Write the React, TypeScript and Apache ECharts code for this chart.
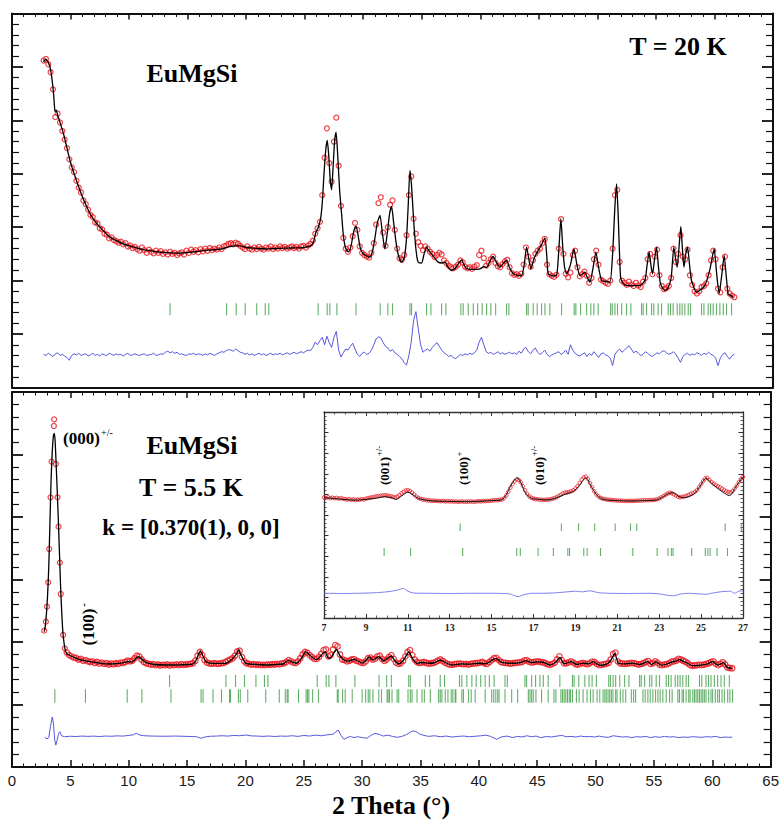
import React, { useEffect, useRef } from 'react';
import * as echarts from 'echarts';

// ---------------- DATA ----------------
const obsStep = 0.2;

// Top panel (T = 20 K)
const topObsStart = 2.7;
const topObs = [
  5120, 5150, 5050, 4900, 4580, 4060, 4130, 3960, 3800, 3640,
  3480, 3270, 3120, 3030, 2870, 2740, 2650, 2500, 2430, 2330,
  2230, 2190, 2090, 2070, 1980, 1960, 1880, 1860, 1790, 1810,
  1760, 1740, 1710, 1730, 1680, 1700, 1640, 1660, 1610, 1630,
  1590, 1560, 1620, 1570, 1520, 1580, 1540, 1510, 1560, 1520,
  1550, 1500, 1530, 1490, 1540, 1500, 1520, 1480, 1510, 1530,
  1490, 1560, 1520, 1580, 1540, 1570, 1530, 1590, 1550, 1600,
  1560, 1610, 1570, 1600, 1580, 1620, 1590, 1640, 1660, 1690,
  1700, 1680, 1710, 1690, 1650, 1620, 1590, 1640, 1600, 1580,
  1620, 1590, 1630, 1600, 1580, 1620, 1600, 1640, 1590, 1620,
  1600, 1640, 1610, 1630, 1600, 1620, 1640, 1610, 1630, 1600,
  1640, 1650, 1620, 1660, 1690, 1750, 1880, 1980, 2100, 2600,
  3300, 3850, 3200, 2850, 3600, 4050, 3150, 2400, 1800, 1600,
  1540, 1620, 1830, 2080, 1950, 1640, 1520, 1480, 1450, 1430,
  1520, 1700, 2050, 2450, 2560, 1900, 1650, 2000, 2420, 2500,
  1950, 1600, 1420, 1390, 1480, 1850, 2600, 2950, 2160, 1880,
  1720, 1650, 1570, 1640, 1600, 1540, 1500, 1440, 1480, 1520,
  1490, 1380, 1330, 1280, 1250, 1230, 1260, 1300, 1380, 1340,
  1260, 1230, 1250, 1220, 1260, 1290, 1480, 1560, 1420, 1280,
  1330, 1400, 1450, 1330, 1270, 1250, 1310, 1360, 1390, 1250,
  1140, 1110, 1120, 1090, 1130, 1300, 1620, 1450, 1260, 1380,
  1500, 1560, 1600, 1700, 1780, 1300, 1120, 1090, 1070, 1110,
  1600, 2150, 1500, 1130, 1060, 1150, 1480, 1560, 1250, 1080,
  1120, 1170, 1090, 960, 1050, 1400, 1560, 1300, 1020, 990,
  960, 940, 1000, 1600, 2600, 2700, 1350, 1000, 960, 920,
  980, 930, 900, 960, 910, 880, 980, 1050, 1400, 1500,
  1120, 1450, 1580, 1100, 900, 840, 860, 900, 1050, 1600,
  1350, 1500, 1850, 1450, 1400, 1580, 1100, 920, 800, 760,
  800, 880, 900, 950, 1100, 1380, 1560, 1400, 850, 780,
  1250, 1450, 850, 760, 720, 690,
];
const topDiff = [
  -380, -400, -360, -390, -420, -370, -350, -400, -380, -410,
  -440, -490, -400, -370, -390, -360, -400, -380, -370, -410,
  -390, -360, -400, -380, -410, -370, -390, -400, -360, -380,
  -400, -370, -390, -380, -410, -380, -360, -400, -390, -370,
  -390, -400, -380, -370, -400, -390, -380, -360, -400, -390,
  -370, -380, -340, -320, -350, -330, -360, -340, -380, -370,
  -390, -400, -370, -380, -360, -390, -370, -380, -400, -370,
  -390, -360, -380, -400, -370, -350, -330, -340, -310, -290,
  -300, -320, -280, -310, -340, -350, -380, -360, -390, -370,
  -400, -380, -360, -390, -370, -400, -380, -360, -390, -370,
  -380, -360, -390, -370, -350, -380, -360, -340, -370, -350,
  -330, -350, -320, -300, -310, -250, -150, -200, -120, -60,
  -200, -40, -160, -250, -60, 50, -300, -430, -350, -280,
  -300, -230, -170, -280, -380, -420, -360, -340, -380, -360,
  -300, -200, -90, -50, -70, -160, -230, -260, -320, -290,
  -350, -380, -420, -460, -540, -580, -400, -150, 250, 420,
  100, -200, -340, -300, -280, -320, -250, -200, -160, -230,
  -300, -350, -380, -420, -400, -440, -460, -420, -380, -400,
  -370, -390, -360, -380, -350, -300, -150, -60, -200, -330,
  -360, -340, -380, -360, -330, -370, -350, -380, -360, -340,
  -370, -350, -380, -320, -360, -280, -250, -330, -370, -300,
  -260, -340, -380, -350, -300, -380, -420, -390, -370, -350,
  -330, -380, -350, -300, -380, -200, -300, -360, -390, -410,
  -380, -350, -420, -360, -400, -330, -380, -440, -370, -350,
  -390, -410, -450, -590, -380, -320, -280, -340, -300, -260,
  -220, -280, -350, -320, -360, -400, -380, -330, -360, -400,
  -420, -380, -350, -370, -330, -310, -350, -380, -360, -330,
  -380, -450, -530, -420, -380, -360, -400, -370, -390, -350,
  -370, -400, -360, -380, -340, -380, -400, -450, -590, -450,
  -380, -350, -420, -470, -400, -380,
];
const topCalc = [
  [2.7, 5090], [2.85, 5140], [2.95, 5134], [3.1, 5080], [3.25, 4996], [3.4, 4800], [3.55, 4500], [3.65, 4200],
  [3.7, 4170], [3.78, 4190], [3.9, 4100], [4.15, 3930], [4.4, 3749], [4.7, 3480], [4.95, 3249], [5.4, 2940],
  [5.81, 2688], [6.2, 2470], [6.66, 2257], [7.1, 2110], [7.51, 2001], [8.0, 1890], [8.37, 1813], [9.0, 1740],
  [9.5, 1690], [10.2, 1640], [10.93, 1596], [11.8, 1560], [12.64, 1533], [13.5, 1520], [14.35, 1514], [15.2, 1530],
  [16.05, 1552], [16.8, 1570], [17.48, 1583], [18.1, 1605], [18.6, 1635], [19.0, 1650], [19.5, 1650], [19.9, 1625],
  [20.3, 1615], [21.0, 1602], [21.75, 1596], [22.5, 1602], [23.17, 1608], [23.9, 1612], [24.6, 1615], [25.1, 1628],
  [25.5, 1650], [25.75, 1720], [25.95, 1900], [26.15, 1990], [26.35, 2150], [26.5, 2450], [26.65, 3000], [26.8, 3450],
  [26.93, 3624], [27.05, 3350], [27.18, 2900], [27.3, 2701], [27.42, 3100], [27.55, 3600], [27.68, 3779], [27.82, 3350],
  [27.98, 2700], [28.15, 2251], [28.3, 1850], [28.45, 1640], [28.6, 1560], [28.75, 1540], [28.95, 1640], [29.15, 1880],
  [29.3, 2000], [29.4, 2014], [29.55, 1860], [29.75, 1610], [30.0, 1503], [30.3, 1460], [30.57, 1439], [30.8, 1560],
  [31.0, 1800], [31.2, 2080], [31.43, 2220], [31.65, 1860], [31.85, 1596], [32.05, 1880], [32.25, 2250], [32.42, 2388],
  [32.6, 2080], [32.8, 1720], [33.0, 1480], [33.28, 1346], [33.5, 1420], [33.7, 1800], [33.85, 2450], [33.99, 3062],
  [34.12, 2800], [34.27, 2251], [34.45, 1700], [34.6, 1420], [34.7, 1346], [34.98, 1327], [35.2, 1500], [35.41, 1626],
  [35.6, 1560], [35.84, 1502], [36.1, 1420], [36.4, 1346], [36.7, 1330], [36.98, 1346], [37.25, 1250], [37.55, 1190],
  [37.9, 1240], [38.2, 1340], [38.4, 1390], [38.6, 1300], [38.83, 1222], [39.4, 1210], [39.97, 1222], [40.3, 1260],
  [40.55, 1250], [40.85, 1380], [41.1, 1452], [41.4, 1330], [41.67, 1252], [42.0, 1330], [42.24, 1377], [42.5, 1240],
  [42.81, 1128], [43.2, 1100], [43.53, 1096], [43.75, 1300], [43.95, 1626], [44.15, 1400], [44.32, 1222], [44.6, 1420],
  [44.86, 1533], [45.2, 1660], [45.52, 1802], [45.68, 1450], [45.8, 1128], [46.2, 1090], [46.51, 1096], [46.7, 1550],
  [46.88, 2158], [47.05, 1600], [47.2, 1250], [47.37, 1128], [47.7, 1300], [48.0, 1596], [48.25, 1300], [48.5, 1096],
  [48.7, 1120], [48.93, 1159], [49.15, 1050], [49.36, 971], [49.6, 1200], [49.87, 1533], [50.1, 1250], [50.36, 1003],
  [50.7, 985], [51.07, 971], [51.3, 1500], [51.5, 2400], [51.64, 2813], [51.78, 2200], [51.98, 1065], [52.2, 950],
  [52.49, 909], [53.0, 905], [53.63, 909], [54.06, 1003], [54.25, 1300], [54.42, 1533], [54.58, 1280], [54.71, 1128],
  [54.88, 1400], [55.05, 1626], [55.22, 1250], [55.39, 940], [55.76, 816], [56.0, 850], [56.3, 1050], [56.53, 1627],
  [56.7, 1380], [56.82, 1252], [57.0, 1700], [57.13, 2014], [57.26, 1600], [57.39, 1252], [57.55, 1500], [57.7, 1626],
  [57.87, 1300], [58.04, 1003], [58.47, 784], [58.8, 830], [59.18, 909], [59.6, 1200], [59.97, 1596], [60.2, 1100],
  [60.4, 753], [60.62, 1100], [60.83, 1471], [61.0, 1100], [61.17, 753], [61.4, 720], [61.6, 690],
];

// Bragg reflections
const nuclearTicks = [
  13.5, 18.33, 19.15, 19.92, 20.9, 21.63, 21.93, 26.15, 26.92, 27.15, 27.75, 29.38, 31.45, 32.1, 32.5,
  33.99, 34.13, 35.41, 35.78, 36.69, 37.06, 38.34, 38.54, 38.97, 39.4, 39.77, 40.16, 40.54, 40.9, 41.31,
  42.24, 42.44, 43.95, 44.09, 44.52, 44.86, 45.23, 45.52, 45.94, 46.94, 48.02, 48.16, 48.56, 49.08, 49.44,
  49.7, 50.07, 51.13, 51.27, 51.5, 51.72, 52.07, 52.49, 52.86, 53.77, 53.91, 54.2, 54.63, 54.82, 55.19,
  55.48, 56.05, 56.25, 56.47, 56.82, 57.04, 57.24, 57.47, 57.76, 57.96, 58.9, 59.1, 59.46, 59.67, 59.89,
  60.18, 60.46, 60.75, 61.03, 61.46,
];
const magneticTicks = [
  3.67, 6.29, 9.87, 11.13, 13.62, 16.2, 16.37, 17.22, 17.95, 18.64, 18.72, 19.4, 19.56, 20.2, 21.74, 22.9,
  23.42, 23.58, 23.66, 24.55, 25.2, 25.32, 25.43, 25.76, 26.26, 27.87, 27.95, 28.32, 28.55, 29.15, 30.0,
  30.3, 30.52, 30.66, 30.92, 31.43, 31.66, 32.14, 32.22, 32.34, 32.56, 32.99, 33.13, 33.93, 34.13, 34.27,
  34.7, 35.13, 35.33, 35.84, 36.55, 36.69, 36.83, 37.12, 37.35, 37.63, 37.77, 37.97, 38.03, 38.54, 38.68,
  39.11, 39.34, 39.68, 40.54, 41.1, 41.27, 41.45, 41.62, 41.73, 42.24, 42.81, 43.32, 44.24, 44.38, 44.52,
  44.66, 44.89, 45.37, 45.94, 46.43, 46.6, 47.03, 47.17, 47.31, 47.45, 47.59, 47.74, 47.85, 48.02, 48.36,
  48.59, 48.93, 49.27, 49.56, 49.79, 50.13, 50.36, 50.64, 50.79, 50.92, 51.07, 51.21, 51.35, 51.49, 51.72,
  51.84, 52.12, 52.35, 52.58, 53.06, 53.26, 53.43, 54.06, 54.25, 54.48, 54.68, 54.91, 55.14, 55.34, 55.53,
  55.76, 56.05, 56.34, 56.56, 57.05, 57.19, 57.41, 57.53, 57.76, 57.98, 58.1, 58.33, 58.47, 58.61, 58.75,
  58.9, 59.04, 59.18, 59.32, 59.46, 59.69, 59.89, 60.03, 60.26, 60.46, 60.61, 60.83, 61.03, 61.32, 61.51, 61.74,
];

// Bottom panel (T = 5.5 K)
const botObsPeak = [
  [2.76, 2181], [2.9, 2325], [2.99, 2565], [3.1, 2955], [3.19, 3488], [3.3, 4315], [3.39, 4885], [3.59, 5456],
  [3.61, 5563], [3.76, 4848], [3.9, 4315], [3.99, 3845], [4.1, 3269], [4.18, 2768], [4.38, 2112], [4.53, 1899],
];
const botObsStart = 4.7;
const botObs = [
  1830, 1790, 1770, 1750, 1745, 1720, 1730, 1700, 1710, 1690,
  1680, 1690, 1665, 1680, 1655, 1670, 1650, 1660, 1640, 1655,
  1645, 1660, 1650, 1670, 1665, 1680, 1700, 1690, 1700, 1740,
  1780, 1770, 1720, 1680, 1660, 1650, 1640, 1645, 1630, 1640,
  1625, 1635, 1630, 1640, 1625, 1635, 1630, 1640, 1630, 1645,
  1635, 1640, 1645, 1650, 1660, 1700, 1780, 1840, 1790, 1710,
  1670, 1660, 1650, 1660, 1655, 1650, 1660, 1665, 1680, 1700,
  1720, 1740, 1780, 1850, 1860, 1760, 1690, 1660, 1650, 1640,
  1645, 1635, 1640, 1630, 1635, 1630, 1640, 1635, 1645, 1640,
  1650, 1645, 1655, 1660, 1680, 1710, 1690, 1670, 1665, 1690,
  1740, 1800, 1840, 1830, 1790, 1760, 1730, 1730, 1760, 1810,
  1870, 1880, 1770, 1790, 1880, 1950, 1930, 1800, 1720, 1710,
  1690, 1700, 1720, 1725, 1700, 1690, 1670, 1665, 1690, 1740,
  1750, 1720, 1730, 1770, 1780, 1730, 1700, 1720, 1760, 1790,
  1730, 1670, 1650, 1660, 1700, 1770, 1840, 1870, 1790, 1720,
  1680, 1665, 1670, 1680, 1665, 1655, 1660, 1665, 1680, 1700,
  1720, 1695, 1670, 1650, 1640, 1635, 1645, 1650, 1655, 1650,
  1645, 1650, 1640, 1650, 1655, 1660, 1665, 1670, 1680, 1660,
  1650, 1680, 1710, 1740, 1745, 1710, 1680, 1670, 1665, 1660,
  1655, 1660, 1665, 1670, 1675, 1680, 1705, 1710, 1685, 1670,
  1680, 1685, 1690, 1680, 1675, 1660, 1645, 1635, 1650, 1670,
  1720, 1770, 1710, 1660, 1660, 1675, 1690, 1670, 1645, 1640,
  1655, 1665, 1655, 1645, 1660, 1685, 1680, 1650, 1630, 1635,
  1645, 1650, 1665, 1720, 1810, 1830, 1690, 1660, 1655, 1650,
  1655, 1660, 1665, 1660, 1650, 1640, 1650, 1660, 1680, 1695,
  1650, 1660, 1690, 1670, 1635, 1630, 1640, 1645, 1660, 1685,
  1690, 1700, 1730, 1720, 1700, 1685, 1660, 1630, 1620, 1625,
  1630, 1635, 1630, 1640, 1650, 1660, 1680, 1690, 1650, 1630,
  1650, 1675, 1640, 1590, 1585, 1580,
];
const botCalc = [
  [2.76, 2165], [2.85, 2250], [2.95, 2450], [3.05, 2750], [3.15, 3200], [3.25, 3900], [3.35, 4600], [3.45, 5050],
  [3.55, 5300], [3.63, 5339], [3.7, 5200], [3.78, 4850], [3.88, 4400], [3.98, 3900], [4.08, 3350], [4.18, 2800],
  [4.28, 2400], [4.38, 2112], [4.53, 1899], [4.67, 1819], [5.0, 1780], [5.52, 1739], [6.1, 1705], [6.66, 1685],
  [7.5, 1662], [8.37, 1648], [9.0, 1655], [9.5, 1665], [9.93, 1685], [10.3, 1682], [10.55, 1725], [10.8, 1765],
  [11.1, 1730], [11.5, 1669], [12.2, 1640], [13.2, 1632], [14.5, 1635], [15.48, 1648], [15.75, 1700], [15.95, 1790],
  [16.14, 1856], [16.35, 1780], [16.62, 1685], [17.0, 1662], [17.5, 1658], [18.33, 1659], [18.7, 1700], [18.95, 1745],
  [19.2, 1800], [19.41, 1872], [19.65, 1780], [20.04, 1659], [21.0, 1640], [21.75, 1632], [22.6, 1640], [23.3, 1652],
  [23.46, 1680], [23.7, 1705], [24.0, 1678], [24.4, 1660], [24.8, 1740], [25.17, 1845], [25.5, 1790], [25.8, 1745],
  [26.02, 1723], [26.3, 1745], [26.6, 1810], [26.85, 1840], [27.05, 1750], [27.25, 1740], [27.5, 1800], [27.8, 1880],
  [28.1, 1780], [28.44, 1712], [28.8, 1695], [29.3, 1723], [29.6, 1700], [30.0, 1662], [30.3, 1700], [30.6, 1760],
  [30.9, 1712], [31.1, 1730], [31.4, 1765], [31.85, 1700], [32.2, 1740], [32.5, 1776], [32.8, 1700], [33.13, 1648],
  [33.5, 1700], [33.8, 1790], [34.0, 1845], [34.3, 1740], [34.7, 1659], [35.2, 1672], [35.7, 1660], [36.2, 1668],
  [36.7, 1712], [37.1, 1672], [37.7, 1632], [38.5, 1650], [39.3, 1645], [40.0, 1660], [40.6, 1652], [41.1, 1705],
  [41.45, 1739], [41.9, 1680], [42.4, 1662], [42.9, 1660], [43.5, 1670], [44.04, 1701], [44.5, 1670], [45.0, 1682],
  [45.5, 1676], [46.09, 1632], [46.6, 1680], [46.94, 1755], [47.3, 1652], [47.93, 1685], [48.4, 1640], [48.9, 1662],
  [49.4, 1650], [49.79, 1685], [50.36, 1625], [51.0, 1650], [51.35, 1720], [51.64, 1819], [51.95, 1662], [52.5, 1650],
  [53.2, 1662], [53.8, 1640], [54.48, 1685], [54.8, 1640], [55.19, 1685], [55.6, 1630], [56.0, 1640], [56.62, 1685],
  [57.0, 1700], [57.19, 1723], [57.5, 1690], [57.8, 1670], [58.3, 1620], [59.0, 1630], [59.6, 1650], [60.04, 1685],
  [60.5, 1630], [60.95, 1670], [61.3, 1590], [61.7, 1580],
];
const botDiff = [
  [2.8, 475], [3.0, 450], [3.15, 470], [3.3, 650], [3.45, 800], [3.55, 700], [3.65, 450], [3.75, 350], [3.85, 420],
  [4.0, 540], [4.1, 565], [4.25, 500], [4.5, 485], [5, 492], [5.5, 488], [6, 495], [6.5, 490], [7, 494], [7.5, 488],
  [8, 495], [8.5, 492], [9, 498], [9.5, 495], [10, 505], [10.4, 515], [10.65, 540], [10.9, 515], [11.3, 500], [12, 495],
  [13, 492], [14, 495], [15, 490], [15.8, 485], [16.2, 459], [16.5, 480], [17, 492], [17.5, 495], [18, 500], [18.5, 495],
  [19, 505], [19.5, 500], [20.04, 512], [20.5, 498], [21, 495], [21.5, 490], [22, 496], [22.5, 488], [23, 495], [23.5, 492],
  [24, 500], [24.5, 490], [25, 505], [25.5, 495], [26, 510], [26.5, 500], [27, 515], [27.5, 525], [27.95, 592], [28.2, 500],
  [28.44, 443], [28.7, 470], [29, 490], [29.3, 470], [29.6, 485], [30, 470], [30.4, 460], [30.7, 500], [31.1, 539],
  [31.5, 520], [31.8, 495], [32.2, 510], [32.6, 490], [33, 475], [33.4, 490], [33.8, 520], [34.3, 576], [34.6, 570],
  [34.9, 530], [35.3, 505], [35.7, 490], [36.2, 500], [36.7, 485], [37.2, 495], [37.7, 480], [38.2, 490], [38.7, 495],
  [39.2, 485], [39.7, 492], [40.2, 500], [40.6, 510], [41.0, 490], [41.53, 443], [41.9, 480], [42.4, 495], [42.9, 470],
  [43.3, 490], [43.7, 480], [44.1, 500], [44.5, 485], [44.9, 495], [45.3, 470], [45.8, 490], [46.2, 480], [46.7, 495],
  [47.1, 505], [47.5, 485], [47.9, 490], [48.3, 480], [48.7, 495], [49.1, 485], [49.5, 490], [49.9, 480], [50.3, 495],
  [50.7, 480], [51.1, 475], [51.5, 500], [51.9, 490], [52.3, 480], [52.7, 485], [53.1, 470], [53.5, 485], [53.9, 480],
  [54.3, 490], [54.7, 470], [55.1, 485], [55.5, 475], [55.9, 490], [56.3, 480], [56.7, 485], [57.1, 470], [57.5, 480],
  [57.9, 475], [58.3, 485], [58.7, 480], [59.1, 475], [59.5, 485], [59.9, 480], [60.3, 490], [60.7, 470], [61.1, 480],
  [61.5, 475], [61.7, 478],
];

// Inset (7 - 27 deg)
const insetStart = 7;
const insetStep = 0.1;
const insetObs = [
  5.85, 5.83, 5.86, 5.82, 5.84, 5.81, 5.83, 5.8, 5.82, 5.79,
  5.77, 5.75, 5.77, 5.74, 5.76, 5.73, 5.75, 5.74, 5.77, 5.76,
  5.79, 5.82, 5.84, 5.86, 5.88, 5.9, 5.92, 5.93, 5.95, 5.96,
  5.95, 5.93, 5.9, 5.88, 5.86, 5.9, 5.97, 6.05, 6.13, 6.19,
  6.21, 6.17, 6.1, 6.0, 5.9, 5.83, 5.79, 5.76, 5.74, 5.72,
  5.71, 5.7, 5.69, 5.69, 5.68, 5.68, 5.67, 5.68, 5.66, 5.67,
  5.66, 5.66, 5.65, 5.66, 5.64, 5.65, 5.66, 5.64, 5.65, 5.65,
  5.66, 5.64, 5.65, 5.66, 5.67, 5.66, 5.68, 5.67, 5.69, 5.68,
  5.7, 5.71, 5.72, 5.72, 5.74, 5.76, 5.82, 5.95, 6.13, 6.32,
  6.5, 6.64, 6.72, 6.7, 6.58, 6.4, 6.2, 6.02, 5.9, 5.84,
  5.8, 5.77, 5.76, 5.74, 5.74, 5.73, 5.74, 5.75, 5.76, 5.79,
  5.82, 5.86, 5.92, 5.98, 6.05, 6.09, 6.1, 6.12, 6.15, 6.2,
  6.28, 6.4, 6.55, 6.72, 6.83, 6.86, 6.75, 6.55, 6.35, 6.15,
  6.0, 5.9, 5.83, 5.79, 5.77, 5.75, 5.74, 5.73, 5.72, 5.71,
  5.7, 5.7, 5.69, 5.69, 5.68, 5.68, 5.69, 5.68, 5.69, 5.69,
  5.7, 5.7, 5.71, 5.71, 5.72, 5.72, 5.73, 5.73, 5.74, 5.76,
  5.8, 5.86, 5.92, 5.98, 6.04, 6.08, 6.06, 6.0, 5.94, 5.88,
  5.86, 5.88, 5.9, 5.93, 5.97, 6.02, 6.06, 6.12, 6.2, 6.35,
  6.5, 6.65, 6.78, 6.8, 6.7, 6.6, 6.52, 6.46, 6.4, 6.35,
  6.28, 6.22, 6.16, 6.12, 6.1, 6.15, 6.28, 6.42, 6.6, 6.75,
  6.85,
];
const insetCalc = [
  [7.0, 5.84], [7.5, 5.8], [8.0, 5.75], [8.5, 5.72], [9.0, 5.76], [9.5, 5.82], [9.9, 5.89], [10.2, 5.84], [10.45, 5.76],
  [10.7, 5.92], [11.0, 6.1], [11.25, 5.98], [11.5, 5.81], [12.0, 5.7], [12.5, 5.67], [13.0, 5.66], [13.5, 5.65],
  [14.0, 5.65], [14.5, 5.67], [15.0, 5.7], [15.46, 5.73], [15.7, 5.98], [15.9, 6.4], [16.23, 6.81], [16.45, 6.45],
  [16.6, 6.1], [16.9, 5.81], [17.3, 5.76], [17.63, 5.73], [18.0, 5.8], [18.42, 5.97], [18.9, 6.15], [19.2, 6.45],
  [19.5, 6.81], [19.75, 6.4], [20.02, 5.97], [20.33, 5.76], [21.0, 5.7], [21.6, 5.68], [22.3, 5.7], [22.88, 5.73],
  [23.2, 5.89], [23.45, 6.05], [23.68, 6.08], [23.9, 5.92], [24.15, 5.84], [24.63, 6.0], [24.95, 6.4], [25.23, 6.78],
  [25.5, 6.55], [25.74, 6.33], [26.05, 6.1], [26.35, 5.94], [26.65, 6.35], [26.94, 6.78], [27.0, 6.84],
];
const insetDiff = [
  [7, 1.2], [8, 1.19], [9, 1.21], [9.5, 1.23], [10, 1.27], [10.5, 1.35], [10.8, 1.44], [11.0, 1.3], [11.3, 1.21],
  [12, 1.2], [13, 1.19], [14, 1.2], [15, 1.2], [15.8, 1.18], [16.0, 1.12], [16.27, 1.03], [16.5, 1.12], [16.9, 1.2],
  [17.5, 1.2], [18, 1.22], [18.5, 1.26], [19.0, 1.3], [19.3, 1.27], [19.7, 1.32], [20.1, 1.23], [20.6, 1.2],
  [21.5, 1.19], [22.5, 1.2], [23.0, 1.17], [23.4, 1.1], [23.7, 1.08], [24.0, 1.16], [24.4, 1.2], [24.8, 1.18],
  [25.2, 1.15], [25.6, 1.22], [26.0, 1.28], [26.4, 1.3], [26.6, 1.2], [26.8, 1.3], [27, 1.32],
];

// ---------------- OPTION ----------------
const r2 = (n: number) => Math.round(n * 100) / 100;
const onGrid = (start: number, step: number, vals: number[]) => vals.map((v, i) => [r2(start + step * i), v]);

const SERIF = "'Liberation Serif', 'Times New Roman', serif";
const SANS = "'Liberation Sans', Arial, sans-serif";
const AX = '#111';
const RED = '#e8141c';
const GREEN = '#3c9c44';
const BLUE = '#5858e0';

function xAxisDef(gridIndex: number, position: string, o: any) {
  return {
    gridIndex, type: 'value', position, min: o.min, max: o.max, interval: o.interval,
    axisLine: { show: true, onZero: false, lineStyle: { color: o.lineColor || AX, width: o.lineWidth || 2 } },
    axisTick: { show: o.tick > 0, inside: true, length: o.tick, lineStyle: { color: o.lineColor || AX, width: o.tickWidth || 1.5 } },
    minorTick: { show: o.minor > 0, splitNumber: o.split, length: o.minor, lineStyle: { color: o.lineColor || AX, width: o.minorWidth || 1 } },
    axisLabel: o.label ? o.label : { show: false },
    splitLine: { show: false },
  };
}
function yAxisDef(gridIndex: number, position: string, o: any) {
  return {
    gridIndex, type: 'value', position, min: o.min, max: o.max, interval: o.interval,
    axisLine: { show: true, onZero: false, lineStyle: { color: o.lineColor || AX, width: o.lineWidth || 2 } },
    axisTick: { show: true, inside: true, length: o.tick, lineStyle: { color: o.lineColor || AX, width: o.tickWidth || 1.8 } },
    minorTick: { show: true, splitNumber: o.split, length: o.minor, lineStyle: { color: o.lineColor || AX, width: o.minorWidth || 1.2 } },
    axisLabel: { show: false },
    splitLine: { show: false },
  };
}

const mainX = { min: 0, max: 65, interval: 5, split: 5 };
const insetX = { min: 0, max: 20, interval: 2, split: 4, lineColor: '#333', lineWidth: 1.3, tickWidth: 1, minorWidth: 0.8 };

const obsSeries = (xi: number, data: any[], size = 4.5, bw = 1.1) => ({
  type: 'scatter', xAxisIndex: xi, yAxisIndex: xi, data, symbol: 'circle', symbolSize: size, z: 2, silent: true,
  itemStyle: { color: 'rgba(0,0,0,0)', borderColor: RED, borderWidth: bw },
});
const lineSeries = (xi: number, data: any[], color: string, width: number, smooth: number, z = 3) => ({
  type: 'line', xAxisIndex: xi, yAxisIndex: xi, data, showSymbol: false, symbol: 'none', smooth, z, silent: true,
  lineStyle: { color, width },
});
const tickSeries = (xi: number, data: any[], h: number) => ({
  type: 'scatter', xAxisIndex: xi, yAxisIndex: xi, data, symbol: 'rect', symbolSize: [1.1, h], z: 2, silent: true,
  itemStyle: { color: GREEN },
});

const inInset = (t: number) => t > 7 && t < 27;

const option: any = {
  animation: false,
  backgroundColor: '#fff',
  grid: [
    { left: 12, top: 13.5, width: 761, height: 374 },
    { left: 12, top: 392, width: 761, height: 375 },
    { left: 324, top: 412, width: 419, height: 206, show: true, backgroundColor: '#fff', borderWidth: 0, z: 5 },
  ],
  xAxis: [
    xAxisDef(0, 'bottom', { ...mainX, tick: 0, minor: 0 }),
    xAxisDef(0, 'top', { ...mainX, tick: 6, minor: 3.5 }),
    xAxisDef(1, 'bottom', {
      ...mainX, tick: 7, minor: 3.5,
      label: { show: true, fontFamily: SANS, fontSize: 15, color: '#1a1a1a', margin: 6, showMinLabel: true, showMaxLabel: true },
    }),
    xAxisDef(1, 'top', { ...mainX, tick: 6, minor: 3.5 }),
    { ...xAxisDef(2, 'bottom', {
      ...insetX, tick: 4, minor: 2.5,
      label: { show: true, fontFamily: SERIF, fontWeight: 'bold', fontSize: 10, color: '#222', margin: 4,
        formatter: (v: number) => String(v + insetStart), showMinLabel: true, showMaxLabel: true },
    }), z: 6 },
    { ...xAxisDef(2, 'top', { ...insetX, tick: 4, minor: 2.5 }), z: 6 },
  ],
  yAxis: [
    yAxisDef(0, 'left', { min: -1000, max: 6000, interval: 1000, split: 5, tick: 11, minor: 7 }),
    yAxisDef(0, 'right', { min: -1000, max: 6000, interval: 1000, split: 5, tick: 11, minor: 7 }),
    yAxisDef(1, 'left', { min: 0, max: 6000, interval: 1000, split: 5, tick: 11, minor: 7 }),
    yAxisDef(1, 'right', { min: 0, max: 6000, interval: 1000, split: 5, tick: 11, minor: 7 }),
    { ...yAxisDef(2, 'left', { min: 0, max: 10, interval: 1, split: 5, tick: 4.5, minor: 2.5, lineColor: '#333', lineWidth: 1.3, tickWidth: 1, minorWidth: 0.8 }), z: 6 },
    { ...yAxisDef(2, 'right', { min: 0, max: 10, interval: 1, split: 5, tick: 4.5, minor: 2.5, lineColor: '#333', lineWidth: 1.3, tickWidth: 1, minorWidth: 0.8 }), z: 6 },
  ],
  series: [
    // top
    obsSeries(0, onGrid(topObsStart, obsStep, topObs), 5, 1.2),
    lineSeries(0, topCalc, '#000', 1.3, 0.2),
    lineSeries(0, onGrid(topObsStart, obsStep, topDiff), BLUE, 1, 0),
    tickSeries(0, nuclearTicks.map((t) => [t, 463]), 12),
    // bottom
    obsSeries(2, botObsPeak, 5, 1.2),
    obsSeries(2, onGrid(botObsStart, obsStep, botObs), 5.5, 1.3),
    lineSeries(2, botCalc, '#000', 1.3, 0.2),
    lineSeries(2, botDiff, BLUE, 1, 0),
    tickSeries(2, nuclearTicks.map((t) => [t, 1376]), 12),
    tickSeries(2, magneticTicks.map((t) => [t, 1136]), 13.5),
    // inset
    { ...obsSeries(4, onGrid(0, insetStep, insetObs), 3.5, 1), z: 7 },
    { ...lineSeries(4, insetCalc.map(([t, v]) => [r2(t - insetStart), v]), '#111', 1, 0.3), z: 8 },
    { ...lineSeries(4, insetDiff.map(([t, v]) => [r2(t - insetStart), v]), '#7c7cee', 1, 0.2), z: 8 },
    { ...tickSeries(4, nuclearTicks.filter(inInset).map((t) => [r2(t - insetStart), 4.41]), 7.5), z: 7 },
    { ...tickSeries(4, magneticTicks.filter(inInset).map((t) => [r2(t - insetStart), 3.2]), 8), z: 7 },
  ],
  graphic: [
    { type: 'text', x: 192, y: 73, z: 100, style: { text: 'EuMgSi', font: `bold 26px ${SERIF}`, fill: '#000', align: 'center', verticalAlign: 'middle' } },
    { type: 'text', x: 678, y: 46, z: 100, style: { text: 'T = 20 K', font: `bold 26px ${SERIF}`, fill: '#000', align: 'center', verticalAlign: 'middle' } },
    { type: 'text', x: 192, y: 445, z: 100, style: { text: 'EuMgSi', font: `bold 26px ${SERIF}`, fill: '#000', align: 'center', verticalAlign: 'middle' } },
    { type: 'text', x: 191, y: 487, z: 100, style: { text: 'T = 5.5 K', font: `bold 26px ${SERIF}`, fill: '#000', align: 'center', verticalAlign: 'middle' } },
    { type: 'text', x: 191, y: 527, z: 100, style: { text: 'k = [0.370(1), 0, 0]', font: `bold 23px ${SERIF}`, fill: '#000', align: 'center', verticalAlign: 'middle' } },
    { type: 'text', x: 63, y: 438, z: 100, style: { text: '(000)', font: `bold 17px ${SERIF}`, fill: '#000', align: 'left', verticalAlign: 'middle' } },
    { type: 'text', x: 101, y: 432, z: 100, style: { text: '+/-', font: `10px ${SERIF}`, fill: '#000', align: 'left', verticalAlign: 'middle' } },
    { type: 'text', x: 88, y: 627, rotation: Math.PI / 2, z: 100, style: { text: '(100)', font: `bold 17px ${SERIF}`, fill: '#000', align: 'center', verticalAlign: 'middle' } },
    { type: 'text', x: 83, y: 605, rotation: Math.PI / 2, z: 100, style: { text: '-', font: `bold 11px ${SERIF}`, fill: '#000', align: 'center', verticalAlign: 'middle' } },
    { type: 'text', x: 384, y: 471, rotation: Math.PI / 2, z: 100, style: { text: '(001)', font: `bold 13px ${SERIF}`, fill: '#000', align: 'center', verticalAlign: 'middle' } },
    { type: 'text', x: 379, y: 451, rotation: Math.PI / 2, z: 100, style: { text: '+/-', font: `9px ${SERIF}`, fill: '#000', align: 'center', verticalAlign: 'middle' } },
    { type: 'text', x: 463, y: 471, rotation: Math.PI / 2, z: 100, style: { text: '(100)', font: `bold 13px ${SERIF}`, fill: '#000', align: 'center', verticalAlign: 'middle' } },
    { type: 'text', x: 459, y: 454, rotation: Math.PI / 2, z: 100, style: { text: '+', font: `9px ${SERIF}`, fill: '#000', align: 'center', verticalAlign: 'middle' } },
    { type: 'text', x: 539, y: 471, rotation: Math.PI / 2, z: 100, style: { text: '(010)', font: `bold 13px ${SERIF}`, fill: '#000', align: 'center', verticalAlign: 'middle' } },
    { type: 'text', x: 534, y: 451, rotation: Math.PI / 2, z: 100, style: { text: '+/-', font: `9px ${SERIF}`, fill: '#000', align: 'center', verticalAlign: 'middle' } },
    { type: 'text', x: 391, y: 805, z: 100, style: { text: '2 Theta (°)', font: `bold 26px ${SERIF}`, fill: '#000', align: 'center', verticalAlign: 'middle' } },
  ],
};

export default function App() {
  const ref = useRef<HTMLDivElement>(null);
  useEffect(() => {
    if (!ref.current) return;
    const chart = echarts.init(ref.current, undefined, { renderer: 'svg' });
    chart.setOption(option);
    return () => chart.dispose();
  }, []);
  return (
    <div
      ref={ref}
      style={{ position: 'fixed', left: 0, top: 0, width: 782, height: 821, background: '#fff' }}
    />
  );
}
